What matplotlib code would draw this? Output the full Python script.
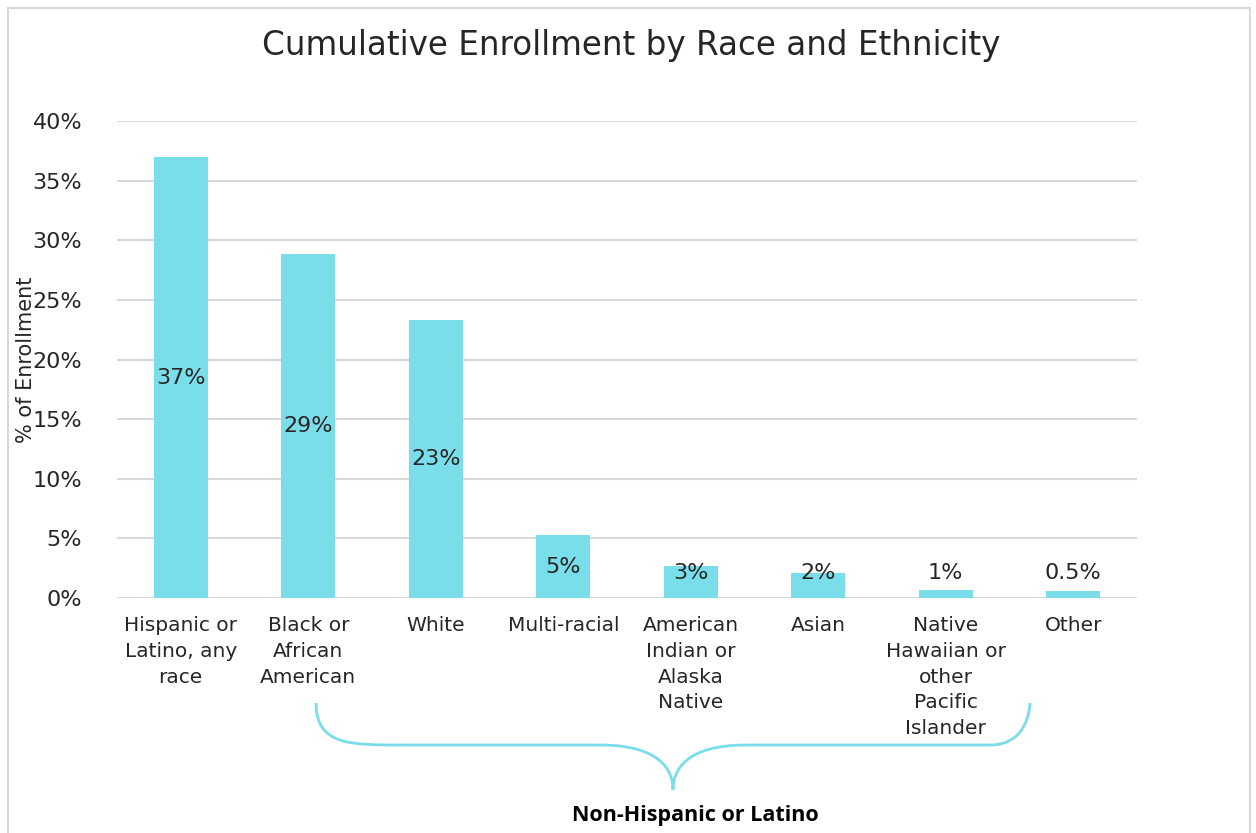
import numpy as np
import matplotlib.pyplot as plt
from matplotlib.path import Path
from matplotlib.patches import PathPatch, Rectangle

categories = ['Hispanic or\nLatino, any\nrace', 'Black or\nAfrican\nAmerican', 'White',
              'Multi-racial', 'American\nIndian or\nAlaska\nNative', 'Asian',
              'Native\nHawaiian or\nother\nPacific\nIslander', 'Other']
values = [36.98, 28.85, 23.3, 5.28, 2.68, 2.1, 0.67, 0.59]
labels = ['37%', '29%', '23%', '5%', '3%', '2%', '1%', '0.5%']
yticks = [0, 5, 10, 15, 20, 25, 30, 35, 40]

bar_color = '#79DEEA'
grid_color = '#D9D9D9'
font = ['DejaVu Sans']
text_color = '#262626'

W, H = 1256, 833
fig = plt.figure(figsize=(W / 100, H / 100), dpi=100)
ax = fig.add_axes([117 / W, 1 - 598 / H, 1020 / W, 477 / H])

x = np.arange(len(categories))
ax.bar(x, values, width=0.42, color=bar_color, zorder=3)
for xi, v, lab in zip(x, values, labels):
    ax.text(xi, max(v / 2, 2.1), lab, ha='center', va='center', fontsize=16,
            family=font, color=text_color, zorder=4)

ax.set_xlim(-0.5, len(categories) - 0.5)
ax.set_ylim(0, 40)
ax.set_yticks(yticks)
ax.set_yticklabels([f'{t}%' for t in yticks], family=font, fontsize=16)
ax.set_xticks(x)
ax.set_xticklabels(categories, family=font, fontsize=14.5, linespacing=1.45, va='top')
ax.tick_params(axis='both', length=0, colors=text_color)
ax.tick_params(axis='y', pad=25)
ax.tick_params(axis='x', pad=13)
ax.yaxis.grid(True, color=grid_color, linewidth=1.5, zorder=0)
for s in ax.spines.values():
    s.set_visible(False)

ax.set_ylabel('% of Enrollment', family=font, fontsize=15, color=text_color)
ax.yaxis.set_label_coords(-0.079, 0.5)

fig.text(631 / W, 1 - 46 / H, 'Cumulative Enrollment by Race and Ethnicity',
         ha='center', va='center', fontsize=23.5, family=font, color=text_color)

# curly brace below the non-Hispanic groups (pixel coords -> figure fractions)
def fp(px, py):
    return (px / W, 1 - py / H)

verts = [fp(316, 703), fp(316, 745), fp(350, 745), fp(400, 745),
         fp(400, 745), fp(560, 745), fp(600, 745),
         fp(660, 745), fp(673, 770), fp(673, 790),
         fp(673, 770), fp(686, 745), fp(746, 745),
         fp(900, 745), fp(950, 745), fp(990, 745),
         fp(1030, 745), fp(1030, 703), fp(1030, 703)]
codes = [Path.MOVETO, Path.CURVE4, Path.CURVE4, Path.CURVE4,
         Path.LINETO, Path.LINETO, Path.LINETO,
         Path.CURVE4, Path.CURVE4, Path.CURVE4,
         Path.CURVE4, Path.CURVE4, Path.CURVE4,
         Path.LINETO, Path.LINETO, Path.LINETO,
         Path.CURVE4, Path.CURVE4, Path.CURVE4]
brace = PathPatch(Path(verts, codes), facecolor='none', edgecolor=bar_color,
                  linewidth=2, transform=fig.transFigure)
fig.patches.append(brace)

fig.text(695 / W, 1 - 816 / H, 'Non-Hispanic or Latino', ha='center', va='center',
         fontsize=15.5, fontweight='bold', family=['Open Sans', 'DejaVu Sans'], color='black')

fig.patches.append(Rectangle((8 / W, -0.01), 1242 / W, 1 - 8 / H + 0.01, fill=False,
                             edgecolor=grid_color, linewidth=1.5, transform=fig.transFigure))

fig.savefig('out.png', dpi=100)
